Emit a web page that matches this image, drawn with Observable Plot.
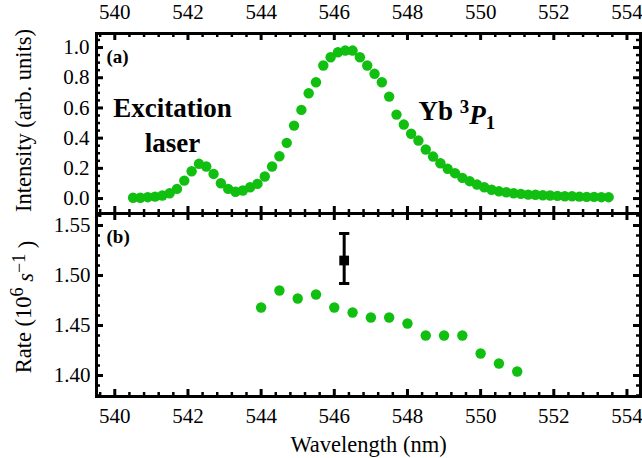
<!DOCTYPE html>
<html><head><meta charset="utf-8">
<script src="https://cdn.jsdelivr.net/npm/d3@7"></script>
<script src="https://cdn.jsdelivr.net/npm/@observablehq/plot@0.6"></script>
<style>
body{margin:0;background:#fff;}
#wrap{position:relative;width:642px;height:458px;}
#wrap svg{position:absolute;left:0;overflow:visible;background:transparent;}
</style></head><body><div id="wrap"></div>
<script>
// ---- Data ----
const wavelength = [540.5,540.7,540.9,541.1,541.3,541.5,541.7,541.9,542.1,542.3,
  542.5,542.7,542.9,543.1,543.3,543.5,543.7,543.9,544.1,544.3,
  544.5,544.7,544.9,545.1,545.3,545.5,545.7,545.9,546.1,546.3,
  546.5,546.7,546.9,547.1,547.3,547.5,547.7,547.9,548.1,548.3,
  548.5,548.7,548.9,549.1,549.3,549.5,549.7,549.9,550.1,550.3,
  550.5,550.7,550.9,551.1,551.3,551.5,551.7,551.9,552.1,552.3,
  552.5,552.7,552.9,553.1,553.3,553.5];
const intensity = [0.005,0.005,0.009,0.013,0.020,0.035,0.064,0.119,0.181,0.230,
  0.212,0.163,0.101,0.064,0.045,0.053,0.075,0.097,0.146,0.212,
  0.280,0.369,0.483,0.587,0.697,0.770,0.881,0.936,0.969,0.980,
  0.980,0.936,0.881,0.826,0.770,0.675,0.556,0.490,0.429,0.384,
  0.325,0.278,0.234,0.197,0.168,0.137,0.115,0.093,0.075,0.058,
  0.048,0.042,0.035,0.031,0.026,0.025,0.022,0.020,0.018,0.015,
  0.015,0.013,0.011,0.011,0.009,0.009];
const rateWavelength = [544.0,544.5,545.0,545.5,546.0,546.5,547.0,547.5,548.0,548.5,549.0,549.5,550.0,550.5,551.0];
const rate = [1.468,1.485,1.477,1.481,1.468,1.463,1.458,1.458,1.452,1.440,1.440,1.440,1.422,1.412,1.404];
const refWavelength = [546.27];
const refRate = [1.515];
const refLow = [1.492];
const refHigh = [1.542];
const xTicks = [540,542,544,546,548,550,552,554];
const yTicksTop = [0.0,0.2,0.4,0.6,0.8,1.0];
const yTicksBottom = [1.40,1.45,1.50,1.55];

// ---- Styling ----
const green = "#10bf10";
const font = "Liberation Serif";
const W = 642, mL = 96, mR = 2;
const frameW = W - mL - mR;
const xDomain = [539.5, 554.37];
const xMinor = d3.range(539.6, 554.4, 0.4).filter(v => Math.abs(v/2 - Math.round(v/2)) > 0.01);

function tickMarks(xMaj, xMin, yMaj, yMin, frameH) {
  const L = 7, l = 4, s = {stroke: "black"};
  return [
    Plot.ruleX(xMaj, {x: d => d, insetTop: frameH - L, strokeWidth: 3, ...s}),
    Plot.ruleX(xMaj, {x: d => d, insetBottom: frameH - L, strokeWidth: 3, ...s}),
    Plot.ruleX(xMin, {x: d => d, insetTop: frameH - l, strokeWidth: 2.5, ...s}),
    Plot.ruleX(xMin, {x: d => d, insetBottom: frameH - l, strokeWidth: 2.5, ...s}),
    Plot.ruleY(yMaj, {y: d => d, insetRight: frameW - L, strokeWidth: 3, ...s}),
    Plot.ruleY(yMaj, {y: d => d, insetLeft: frameW - L, strokeWidth: 3, ...s}),
    Plot.ruleY(yMin, {y: d => d, insetRight: frameW - l, strokeWidth: 2.5, ...s}),
    Plot.ruleY(yMin, {y: d => d, insetLeft: frameW - l, strokeWidth: 2.5, ...s})
  ];
}

const topData = wavelength.map((w, i) => ({w, v: intensity[i]}));
const botData = rateWavelength.map((w, i) => ({w, v: rate[i]}));
const refData = refWavelength.map((w, i) => ({w, v: refRate[i], lo: refLow[i], hi: refHigh[i]}));

const topH = 225, topMT = 33, topMB = 12;
const topFrameH = topH - topMT - topMB;
const yMinorTop = d3.range(-0.05, 1.06, 0.05).filter(v => Math.abs(v/0.2 - Math.round(v/0.2)) > 0.01);

const topPlot = Plot.plot({
  width: W, height: topH, marginTop: topMT, marginBottom: topMB, marginLeft: mL, marginRight: mR,
  style: "font-family: 'Liberation Serif', serif; background: transparent; overflow: visible;",
  x: {domain: xDomain},
  y: {domain: [-0.099, 1.093]},
  marks: [
    Plot.axisX({anchor: "top", ticks: xTicks, tickSize: 0, tickPadding: 15, fontSize: 21, fontFamily: font, tickFormat: d => d, label: null}),
    Plot.axisY({anchor: "left", ticks: yTicksTop, tickSize: 0, tickPadding: 7, fontSize: 21, fontFamily: font, tickFormat: d3.format(".1f"), label: null}),
    Plot.dot(topData, {x: "w", y: "v", r: 5.2, fill: green}),
    Plot.text(["Intensity (arb. units)"], {frameAnchor: "left", text: d => d, rotate: -90, textAnchor: "middle", dx: -73, dy: -3, fontSize: 22.5, fontFamily: font}),
    Plot.text(["(a)"], {frameAnchor: "top-left", text: d => d, dx: 10, dy: 16, fontSize: 19, fontWeight: "bold", fontFamily: font, textAnchor: "start"}),
    Plot.text(["Excitation"], {x: [541.58], y: [0.597], text: d => d, fontSize: 27, fontWeight: "bold", fontFamily: font}),
    Plot.text(["laser"], {x: [541.58], y: [0.365], text: d => d, fontSize: 27, fontWeight: "bold", fontFamily: font}),
    Plot.text(["Yb 3P1"], {x: [548.3], y: [0.575], text: d => d, fontSize: 27, fontWeight: "bold", fontFamily: font, textAnchor: "start"}),
    ...tickMarks(xTicks, xMinor, yTicksTop, yMinorTop, topFrameH),
    Plot.frame({stroke: "black", strokeWidth: 3})
  ]
});

const botTop = 200, botH = 258, botMT = 13, botMB = 62;
const botFrameH = botH - botMT - botMB;
const yMinorBot = d3.range(1.38, 1.561, 0.01).filter(v => Math.abs(v/0.05 - Math.round(v/0.05)) > 0.01);

const capSymbol = {draw(ctx, size) { const w = Math.sqrt(size); ctx.moveTo(-w, 0); ctx.lineTo(w, 0); }};

const botPlot = Plot.plot({
  width: W, height: botH, marginTop: botMT, marginBottom: botMB, marginLeft: mL, marginRight: mR,
  style: "font-family: 'Liberation Serif', serif; background: transparent; overflow: visible;",
  x: {domain: xDomain},
  y: {domain: [1.379, 1.562]},
  marks: [
    Plot.axisX({anchor: "bottom", ticks: xTicks, tickSize: 0, tickPadding: 12, fontSize: 21, fontFamily: font, tickFormat: d => d, label: null}),
    Plot.axisY({anchor: "left", ticks: yTicksBottom, tickSize: 0, tickPadding: 6, fontSize: 21, fontFamily: font, tickFormat: d3.format(".2f"), label: null}),
    Plot.dot(botData, {x: "w", y: "v", r: 5.2, fill: green}),
    Plot.ruleX(refData, {x: "w", y1: "lo", y2: "hi", stroke: "black", strokeWidth: 3}),
    Plot.dot(refData, {x: "w", y: "lo", symbol: capSymbol, r: 2.9, stroke: "black", strokeWidth: 3}),
    Plot.dot(refData, {x: "w", y: "hi", symbol: capSymbol, r: 2.9, stroke: "black", strokeWidth: 3}),
    Plot.dot(refData, {x: "w", y: "v", symbol: "square", r: 5.5, fill: "black"}),
    Plot.text(["Rate (10^6 s^-1)"], {frameAnchor: "left", text: d => d, rotate: -90, textAnchor: "middle", dx: -73, dy: 2, fontSize: 22.5, fontFamily: font}),
    Plot.text(["(b)"], {frameAnchor: "top-left", text: d => d, dx: 10, dy: 16, fontSize: 19, fontWeight: "bold", fontFamily: font, textAnchor: "start"}),
    Plot.text(["Wavelength (nm)"], {frameAnchor: "bottom", text: d => d, dy: 55, fontSize: 22.5, fontFamily: font}),
    ...tickMarks(xTicks, xMinor, yTicksBottom, yMinorBot, botFrameH),
    Plot.frame({stroke: "black", strokeWidth: 3})
  ]
});

const wrap = document.getElementById("wrap");
topPlot.style.top = "0px";
botPlot.style.top = botTop + "px";
wrap.appendChild(topPlot);
wrap.appendChild(botPlot);

// Rich text: superscripts, subscripts, italics
d3.select(botPlot).selectAll("text").filter(function(){ return this.textContent === "Rate (10^6 s^-1)"; })
  .each(function(){
    const t = d3.select(this); t.text("");
    t.append("tspan").text("Rate (10");
    t.append("tspan").attr("dy", "-0.42em").attr("font-size", "0.8em").text("6");
    t.append("tspan").attr("dy", "0.42em").text(" ");
    t.append("tspan").attr("font-style", "italic").text("s");
    t.append("tspan").attr("dy", "-0.42em").attr("font-size", "0.8em").text("\u22121");
    t.append("tspan").attr("dy", "0.42em").text(" )");
  });
d3.select(topPlot).selectAll("text").filter(function(){ return this.textContent === "Yb 3P1"; })
  .each(function(){
    const t = d3.select(this); t.text("");
    t.append("tspan").text("Yb ");
    t.append("tspan").attr("dy", "-0.4em").attr("font-size", "0.7em").text("3");
    t.append("tspan").attr("dy", "0.4em").attr("font-style", "italic").text("P");
    t.append("tspan").attr("dy", "0.3em").attr("font-size", "0.7em").text("1");
  });
d3.selectAll("#wrap text").style("font-family", "'Liberation Serif', serif");
</script></body></html>
